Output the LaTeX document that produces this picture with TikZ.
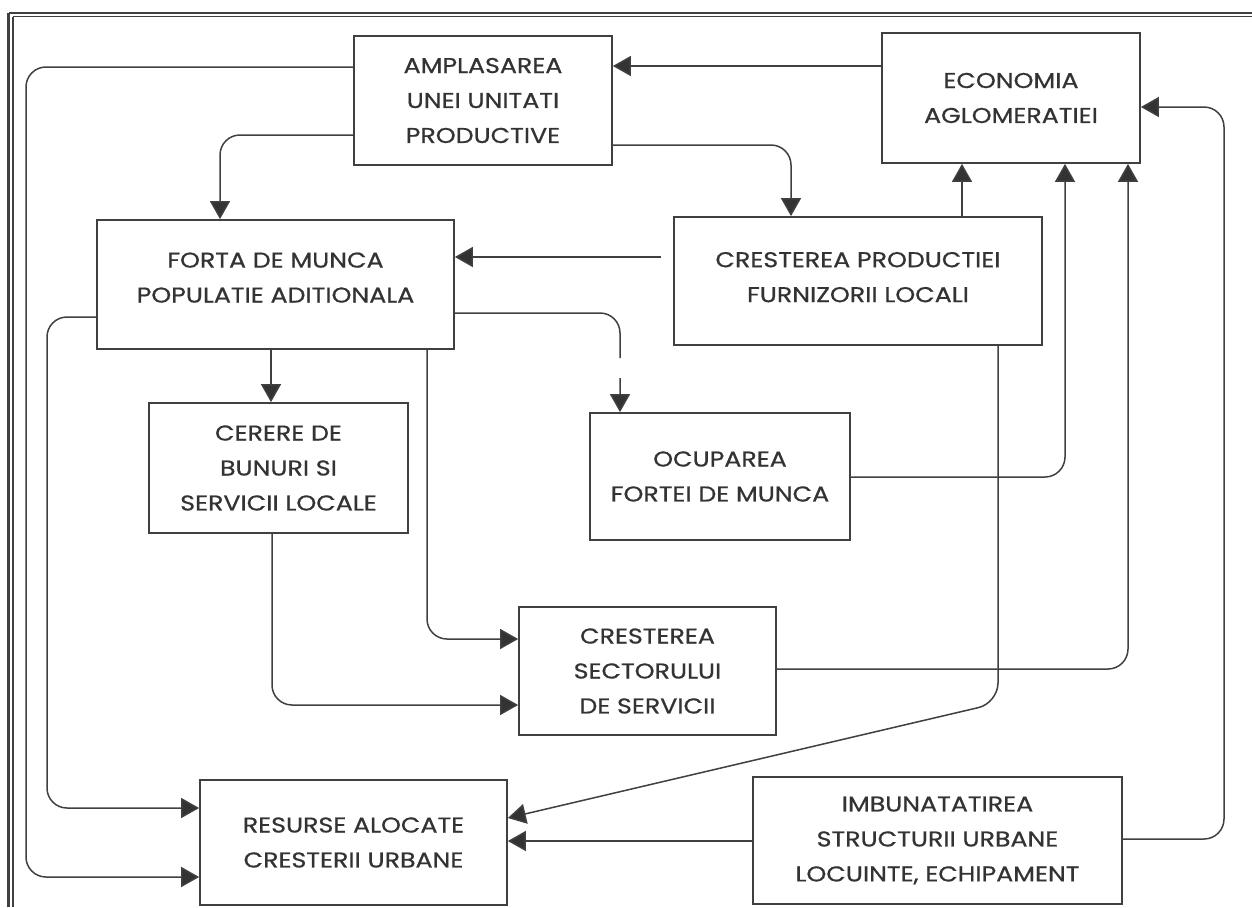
\documentclass[tikz,border=0pt]{standalone}
\usepackage{fontspec}
\usetikzlibrary{arrows.meta}
\newfontfamily\boxfont[FakeStretch=1.18, FakeBold=0.7]{Poppins}
\definecolor{inkgray}{HTML}{333333}
\definecolor{linegray}{HTML}{404040}
\tikzset{
  box/.style={draw=linegray, line width=0.035cm, inner sep=0pt, align=center,
    text=inkgray, font=\boxfont\fontsize{12.2}{19.9}\selectfont},
  conn/.style={draw=linegray, line width=0.03cm, rounded corners=0.4cm,
    -{Triangle[length=0.36cm,width=0.4cm,fill=inkgray]}},
  frameline/.style={draw=linegray}
}
\begin{document}
\begin{tikzpicture}[x=0.02cm,y=-0.02cm]
\useasboundingbox (0,0) rectangle (1252,907);
\fill[white] (0,0) rectangle (1252,907);

% page frame (top and left double rules)
\draw[frameline, line width=0.055cm] (8.5,13) -- (1252,13);
\draw[frameline, line width=0.025cm] (13,16.5) -- (1252,16.5);
\draw[frameline, line width=0.055cm] (8.5,13) -- (8.5,907);
\draw[frameline, line width=0.025cm] (13,16.5) -- (13,907);

% boxes
\node[box, minimum width=5.16cm, minimum height=2.58cm] (amp) at (483,100.5)
  {AMPLASAREA\\UNEI UNITATI\\PRODUCTIVE};
\node[box, minimum width=5.16cm, minimum height=2.60cm] (eco) at (1011,98)
  {ECONOMIA\\AGLOMERATIEI};
\node[box, minimum width=7.14cm, minimum height=2.58cm] (forta) at (275.5,284.5)
  {FORTA DE MUNCA\\POPULATIE ADITIONALA\\[-0.42cm]\mbox{}};
\node[box, minimum width=7.36cm, minimum height=2.56cm] (prod) at (858,281)
  {\mbox{}\\[-0.55cm]CRESTEREA PRODUCTIEI\\FURNIZORII LOCALI};
\node[box, minimum width=5.18cm, minimum height=2.60cm] (cerere) at (278.5,468)
  {CERERE DE\\BUNURI SI\\SERVICII LOCALE};
\node[box, minimum width=5.20cm, minimum height=2.54cm] (ocup) at (720,476.5)
  {OCUPAREA\\FORTEI DE MUNCA};
\node[box, minimum width=5.14cm, minimum height=2.56cm] (sect) at (647.5,671)
  {CRESTEREA\\SECTORULUI\\DE SERVICII};
\node[box, minimum width=6.14cm, minimum height=2.50cm] (res) at (353.5,842.5)
  {RESURSE ALOCATE\\CRESTERII URBANE};
\node[box, minimum width=7.38cm, minimum height=2.54cm] (imb) at (937.5,840.5)
  {IMBUNATATIREA\\STRUCTURII URBANE\\LOCUINTE, ECHIPAMENT};

% connectors
\draw[conn] (eco.west |- 0,66) -- (amp.east |- 0,66);
\draw[conn] (amp.west |- 0,67) -| (26,877) -- (res.west |- 0,877);
\draw[conn] (amp.west |- 0,135) -| (forta.north -| 220,0);
\draw[conn] (amp.east |- 0,145) -| (prod.north -| 791,0);
\draw[conn, shorten <=0.24cm] (prod.west |- 0,257) -- (forta.east |- 0,257);
\draw[conn] (prod.north -| 962,0) -- (eco.south -| 962,0);
\draw[conn] (forta.south -| 271,0) -- (cerere.north -| 271,0);
\draw[conn] (forta.east |- 0,313) -| (620,358) (620,378) -- (ocup.north -| 620,0);
\draw[conn] (forta.south -| 427,0) |- (sect.west |- 0,639);
\draw[conn] (cerere.south -| 272,0) |- (sect.west |- 0,705);
\draw[conn] (forta.west |- 0,317) -| (47,808) -- (res.west |- 0,808);
\draw[conn] (ocup.east |- 0,477) -| (eco.south -| 1065,0);
\draw[conn] (sect.east |- 0,669) -| (eco.south -| 1128,0);
\draw[conn] (prod.south -| 998,0) -- (998,703) -- (res.east |- 0,818);
\draw[conn] (imb.west |- 0,841) -- (res.east |- 0,841);
\draw[conn] (imb.east |- 0,839) -| (1224,107) -- (eco.east |- 0,107);
\end{tikzpicture}
\end{document}
